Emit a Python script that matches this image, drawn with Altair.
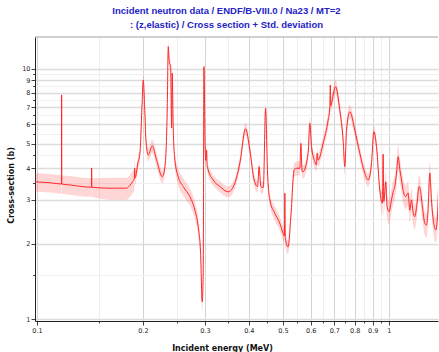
import altair as alt
import pandas as pd

# Incident energy (MeV)
energy = [0.0987, 0.1089, 0.1174, 0.1175, 0.1176, 0.1241, 0.1429, 0.1430, 0.1431, 0.1612,
          0.1798, 0.1837, 0.1874, 0.1890, 0.1895, 0.1900, 0.1936, 0.1962, 0.1988, 0.2005,
          0.2023, 0.2040, 0.2072, 0.2126, 0.2188, 0.2270, 0.2311, 0.2346, 0.2361, 0.2376,
          0.2398, 0.2414, 0.2423, 0.2439, 0.2466, 0.2520, 0.2604, 0.2721, 0.2811, 0.2872,
          0.2918, 0.2948, 0.2968, 0.2982, 0.3007, 0.3020, 0.3035, 0.3045, 0.3066, 0.3168,
          0.3311, 0.3496, 0.3652, 0.3773, 0.3917, 0.4028, 0.4143, 0.4236, 0.4280, 0.4328,
          0.4400, 0.4464, 0.4523, 0.4591, 0.4744, 0.4901, 0.5008, 0.5050, 0.5064, 0.5080,
          0.5174, 0.5267, 0.5383, 0.5468, 0.5587, 0.5623, 0.5670, 0.5708, 0.5898, 0.5964,
          0.6031, 0.6163, 0.6231, 0.6256, 0.6296, 0.6506, 0.6723, 0.6800, 0.6820, 0.6840,
          0.6874, 0.7056, 0.7257, 0.7416, 0.7499, 0.7583, 0.7749, 0.8007, 0.8273, 0.8548,
          0.8735, 0.8932, 0.9067, 0.9228, 0.9428, 0.9597, 0.9634, 0.9680, 0.9806, 0.9889,
          1.002, 1.018, 1.029, 1.040, 1.052, 1.063, 1.075, 1.087, 1.098, 1.118,
          1.135, 1.147, 1.160, 1.172, 1.185, 1.203, 1.219, 1.230, 1.246, 1.266,
          1.280, 1.293, 1.308, 1.322, 1.342, 1.360, 1.375, 1.387]

# Cross-section (b)
cross_section = [3.53, 3.50, 3.46, 7.85, 3.46, 3.43, 3.36, 4.01, 3.36, 3.33,
                 3.33, 3.42, 3.55, 3.62, 4.01, 3.66, 4.20, 4.60, 7.04, 9.00,
                 7.04, 5.19, 4.52, 4.91, 4.31, 3.70, 4.06, 7.04, 12.24, 10.66,
                 10.18, 5.79, 9.60, 5.79, 4.31, 3.70, 3.38, 3.08, 2.72, 2.34,
                 1.83, 1.17, 1.53, 10.18, 4.73, 4.30, 4.73, 4.10, 3.94, 3.59,
                 3.38, 3.22, 3.49, 4.20, 5.75, 4.73, 3.59, 3.38, 4.06, 3.38,
                 3.35, 6.94, 3.83, 2.99, 2.64, 2.41, 2.20, 2.15, 3.18, 2.10,
                 1.94, 2.56, 3.94, 4.00, 4.00, 5.03, 3.88, 3.88, 4.59, 6.05,
                 4.88, 4.25, 4.12, 4.59, 4.31, 5.03, 6.23, 7.00, 8.60, 7.10,
                 7.27, 8.47, 6.83, 5.19, 4.06, 5.68, 6.73, 5.68, 4.59, 3.82,
                 3.59, 4.19, 5.60, 4.88, 3.27, 2.90, 4.55, 2.95, 3.53, 2.81,
                 2.68, 2.99, 3.22, 3.38, 3.83, 4.45, 3.94, 3.59, 3.27, 3.08,
                 3.19, 2.72, 2.99, 2.68, 2.56, 2.90, 3.38, 3.27, 2.81, 2.41,
                 2.37, 2.72, 3.83, 2.99, 2.41, 2.27, 2.56, 3.65]

# Relative standard deviation, by energy range (range start, value)
unc_range_start = [0.0, 0.15, 0.19, 0.25, 0.30, 0.37, 0.46, 0.56, 0.66, 0.80, 0.95]
unc_relative = [0.085, 0.10, 0.06, 0.08, 0.05, 0.055, 0.065, 0.06, 0.065, 0.06, 0.11]

x_tick_values = [0.1, 0.15, 0.2, 0.25, 0.3, 0.35, 0.4, 0.45, 0.5, 0.55, 0.6, 0.65,
                 0.7, 0.75, 0.8, 0.85, 0.9, 0.95, 1.0]
y_tick_values = [1, 1.5, 2, 2.5, 3, 3.5, 4, 4.5, 5, 5.5, 6, 6.5, 7, 7.5, 8, 8.5,
                 9, 9.5, 10]

title_lines = ["Incident neutron data / ENDF/B-VIII.0 / Na23 / MT=2",
               ": (z,elastic) / Cross section + Std. deviation"]


def rel_unc(e):
    val = unc_relative[0]
    for start, u in zip(unc_range_start, unc_relative):
        if e >= start:
            val = u
    return val


df = pd.DataFrame({"E": energy, "xs": cross_section})
df["u"] = [rel_unc(e) for e in energy]
df["lo"] = df["xs"] * (1 - df["u"])
df["hi"] = df["xs"] * (1 + df["u"])

x_major = "abs(datum.value*10 - round(datum.value*10)) < 0.001"
y_major = "abs(datum.value - round(datum.value)) < 0.001"

x_scale = alt.Scale(type="log", domain=[0.0987, 1.38], nice=False)
y_scale = alt.Scale(type="log", domain=[0.982, 13.37], nice=False)

x_axis = alt.Axis(
    values=x_tick_values, format="~g",
    labelExpr=f"{x_major} ? datum.label : ''",
    labelFlush=False, labelOverlap=False, labelPadding=2,
    gridColor={"condition": {"test": x_major, "value": "#d4d4d4"}, "value": "#eeeeee"},
    tickSize={"condition": {"test": x_major, "value": 4}, "value": 2},
    title="Incident energy (MeV)",
    titleX=187, titleY=27, titleAlign="center", titleBaseline="middle",
)
y_axis = alt.Axis(
    values=y_tick_values, format="~g",
    labelExpr=f"{y_major} ? datum.label : ''",
    labelFlush=False, labelOverlap=False, labelPadding=1,
    gridColor={"condition": {"test": y_major, "value": "#dcdcdc"}, "value": "#f0f0f0"},
    gridWidth={"condition": {"test": y_major, "value": 1.5}, "value": 1},
    tickSize={"condition": {"test": y_major, "value": 4}, "value": 2.5},
    title="Cross-section (b)",
    titleX=-24, titleY=148, titleAngle=270, titleAlign="center", titleBaseline="middle",
)

band = alt.Chart(df).mark_area(color="#ff3030", opacity=0.2, clip=True,
                               interpolate="monotone").encode(
    x=alt.X("E:Q", scale=x_scale, axis=x_axis),
    y=alt.Y("lo:Q", scale=y_scale, axis=y_axis),
    y2="hi:Q",
)
line = alt.Chart(df).mark_line(color="#ff2626", strokeWidth=1, clip=True,
                               interpolate="monotone").encode(
    x=alt.X("E:Q", scale=x_scale, axis=x_axis),
    y=alt.Y("xs:Q", scale=y_scale, axis=y_axis),
)
border = alt.Chart(pd.DataFrame({"k": [0]})).mark_rule(color="#a0a0a0", strokeWidth=1).encode(
    x=alt.value(0), x2=alt.value(403), y=alt.value(0)
)

chart = alt.layer(band, line, border).properties(
    width=403, height=284,
    autosize=alt.AutoSizeParams(type="none"),
    padding={"left": 35, "top": 37, "right": 1, "bottom": 31},
    title=alt.TitleParams(
        text=title_lines, font="Liberation Sans", fontSize=9.5, fontWeight="bold",
        color="#2323c6", anchor="middle", offset=7, lineHeight=14, dx=-10,
    ),
).configure_view(stroke=None).configure_axis(
    domainColor="#222222", domainWidth=1, tickColor="#444444",
    labelFont="DejaVu Sans", labelFontSize=6.5, labelColor="#222222",
    titleFont="DejaVu Sans", titleFontSize=8, titleFontWeight="bold", titleColor="#111111",
)

chart.save("out.html", embed_options={"renderer": "svg", "actions": False})
